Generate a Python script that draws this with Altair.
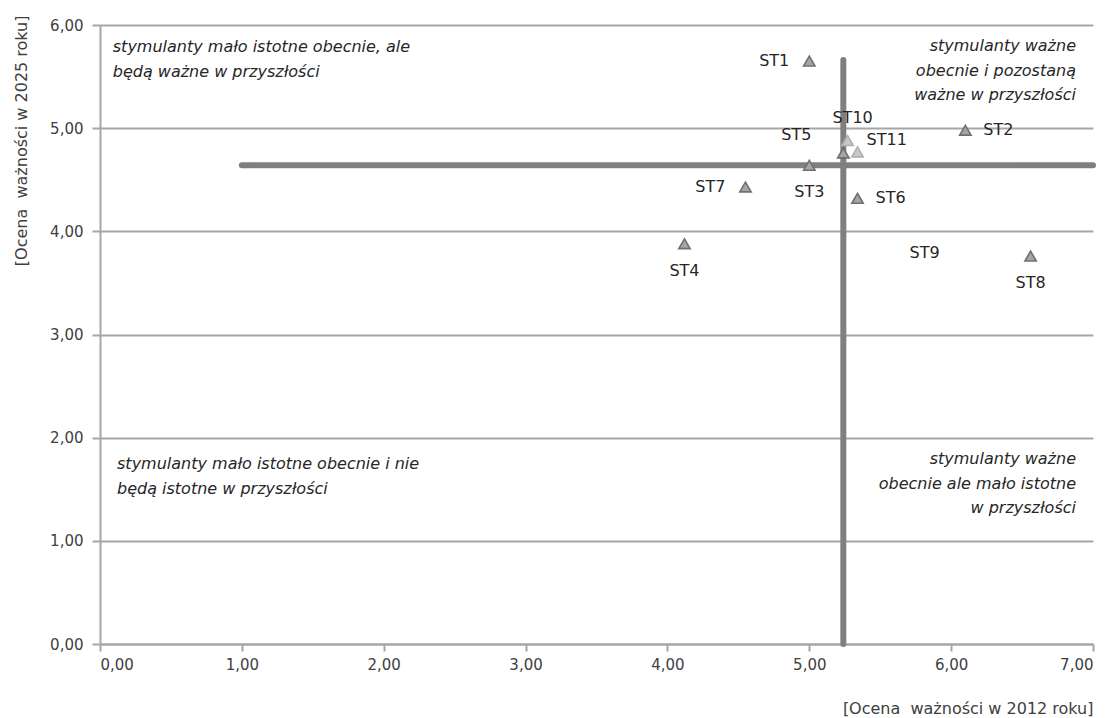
import altair as alt
import pandas as pd

# ---- data ----
labels = ["ST1", "ST2", "ST3", "ST4", "ST5", "ST6", "ST7", "ST8", "ST9", "ST10", "ST11"]
score_2012 = [5.00, 6.10, 5.00, 4.12, 5.24, 5.34, 4.55, 6.56, 6.06, 5.27, 5.34]
score_2025 = [5.65, 4.98, 4.64, 3.88, 4.76, 4.32, 4.43, 3.76, 3.79, 4.88, 4.77]
label_side = ["left", "right", "below", "below", "upper-left", "right", "left",
              "below", "left", "above", "upper-right"]

threshold_2012 = 5.24
threshold_2025 = 4.64
hline_extent = [1.0, 7.0]
vline_extent = [0.0, 5.66]

quadrant_text = [
    "stymulanty mało istotne obecnie, ale\nbędą ważne w przyszłości",
    "stymulanty ważne\nobecnie i pozostaną\nważne w przyszłości",
    "stymulanty mało istotne obecnie i nie\nbędą istotne w przyszłości",
    "stymulanty ważne\nobecnie ale mało istotne\nw przyszłości",
]
quadrant_x = [0.09, 6.88, 0.12, 6.88]
quadrant_y = [5.86, 5.87, 1.82, 1.87]
quadrant_align = ["left", "right", "left", "right"]

x_title = "[Ocena\u00a0 ważności w 2012 roku]"
y_title = "[Ocena\u00a0 ważności w 2025 roku]"

FONT = "DejaVu Sans"
GRID = "#a6a6a6"
LINE = "#7f7f7f"

pts = pd.DataFrame({"label": labels, "x": score_2012, "y": score_2025, "side": label_side})
quad = pd.DataFrame({"text": quadrant_text, "x": quadrant_x, "y": quadrant_y,
                     "align": quadrant_align})
quad["lines"] = quad["text"].str.split("\n")

fmt = "replace(format(datum.value, '.2f'), '.', ',')"

xs = alt.Scale(domain=[0, 7], nice=False, zero=False)
ys = alt.Scale(domain=[0, 6], nice=False, zero=False)

x_axis = alt.Axis(values=list(range(8)), labelExpr=fmt, grid=False, title=x_title,
                  titleAnchor="end", titlePadding=28, tickSize=7, labelPadding=6,
                  domainColor=GRID, tickColor=GRID, domainWidth=2, tickWidth=2)
y_axis = alt.Axis(values=list(range(7)), labelExpr=fmt, grid=True, gridColor=GRID,
                  gridWidth=2, title=y_title, titleAnchor="end", titleY=-10,
                  titlePadding=20, tickSize=8, labelPadding=9, domainColor=GRID,
                  tickColor=GRID, domainWidth=2, tickWidth=2)

base = alt.Chart(pts)

points = base.mark_point(shape="triangle-up", filled=True, size=130, strokeWidth=1.6).encode(
    x=alt.X("x:Q", scale=xs, axis=x_axis),
    y=alt.Y("y:Q", scale=ys, axis=y_axis),
    fill=alt.condition("datum.label == 'ST10' || datum.label == 'ST11'",
                       alt.value("#c8c8c8"), alt.value("#a5a5a5")),
    stroke=alt.condition("datum.label == 'ST10' || datum.label == 'ST11'",
                         alt.value("#b0b0b0"), alt.value("#707070")),
    opacity=alt.condition("datum.label == 'ST9'", alt.value(0), alt.value(1)),
)

hline = alt.Chart(pd.DataFrame({"x": [hline_extent[0]], "x2": [hline_extent[1]],
                                "y": [threshold_2025]})).mark_rule(
    color=LINE, strokeWidth=6, strokeCap="round").encode(
    x=alt.X("x:Q", scale=xs), x2="x2:Q", y=alt.Y("y:Q", scale=ys))

vline = alt.Chart(pd.DataFrame({"y": [vline_extent[0]], "y2": [vline_extent[1]],
                                "x": [threshold_2012]})).mark_rule(
    color=LINE, strokeWidth=6, strokeCap="round").encode(
    y=alt.Y("y:Q", scale=ys), y2="y2:Q", x=alt.X("x:Q", scale=xs))

side_style = {
    "left": dict(align="right", dx=-20, dy=0),
    "right": dict(align="left", dx=18, dy=0),
    "below": dict(align="center", dx=0, dy=27),
    "above": dict(align="center", dx=5, dy=-23),
    "upper-left": dict(align="right", dx=-32, dy=-18),
    "upper-right": dict(align="left", dx=9, dy=-12),
}
text_layers = []
for side, st in side_style.items():
    text_layers.append(
        base.transform_filter(alt.datum.side == side).mark_text(
            font=FONT, fontSize=16, color="#262626", baseline="middle", **st
        ).encode(x=alt.X("x:Q", scale=xs), y=alt.Y("y:Q", scale=ys), text="label:N")
    )

quad_layers = []
for al in ["left", "right"]:
    quad_layers.append(
        alt.Chart(quad).transform_filter(alt.datum.align == al).mark_text(
            font=FONT, fontSize=16, fontStyle="italic", color="#262626", align=al,
            baseline="top", lineHeight=24.5
        ).encode(x=alt.X("x:Q", scale=xs), y=alt.Y("y:Q", scale=ys), text="lines")
    )

chart = alt.layer(hline, vline, points, *text_layers, *quad_layers).properties(
    width=993, height=619,
    autosize=alt.AutoSizeParams(type="none"),
    padding={"left": 92, "top": 17, "right": 10, "bottom": 74},
).configure_view(stroke=None).configure_axis(
    labelFont=FONT, labelFontSize=15, labelColor="#404040",
    titleFont=FONT, titleFontSize=16, titleFontWeight="normal", titleColor="#404040",
)

chart.save("out.html", embed_options={"renderer": "svg", "actions": False})
